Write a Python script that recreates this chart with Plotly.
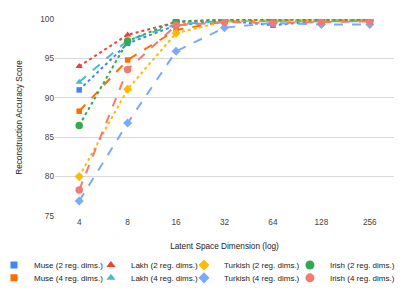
import plotly.graph_objects as go

dims = ["4", "8", "16", "32", "64", "128", "256"]
muse2 = [91.0, 96.9, 99.2, 99.8, 99.2, 99.8, 99.9]
muse4 = [88.3, 94.8, 98.6, 99.7, 99.8, 99.8, 99.9]
lakh2 = [94.0, 98.0, 99.6, 99.9, 99.9, 99.9, 99.9]
lakh4 = [92.0, 97.3, 99.3, 99.8, 99.7, 99.7, 99.7]
turk2 = [80.0, 91.1, 98.2, 99.7, 99.8, 99.9, 99.9]
turk4 = [76.9, 86.8, 95.9, 98.9, 99.5, 99.3, 99.3]
irish2 = [86.5, 97.2, 99.7, 99.9, 99.9, 99.9, 99.9]
irish4 = [78.3, 93.6, 99.2, 99.6, 99.5, 99.6, 99.7]

series = [
    ("Muse (2 reg. dims.)", muse2, "#4285F4", "square", "dot"),
    ("Muse (4 reg. dims.)", muse4, "#FF6D01", "square", "dash"),
    ("Lakh (2 reg. dims.)", lakh2, "#EA4335", "triangle-up", "dot"),
    ("Lakh (4 reg. dims.)", lakh4, "#46BDC6", "triangle-up", "dash"),
    ("Turkish (2 reg. dims.)", turk2, "#FBBC04", "diamond", "dot"),
    ("Turkish (4 reg. dims.)", turk4, "#7BAAF7", "diamond", "dash"),
    ("Irish (2 reg. dims.)", irish2, "#34A853", "circle", "dot"),
    ("Irish (4 reg. dims.)", irish4, "#F07B72", "circle", "dash"),
]
plot_size = {"square": 5.5, "triangle-up": 6.5, "diamond": 7, "circle": 7.5}
legend_size = {"square": 7, "triangle-up": 8, "diamond": 8.5, "circle": 9}

# legend grid: columns (left edge of each legend box in paper x), rows (paper y)
col_x = [-0.180, 0.106, 0.3805, 0.693]
row_y = [-0.249, -0.314]

FS = 8.25
LFS = 8

fig = go.Figure()
for name, vals, color, sym, dash in series:
    fig.add_trace(go.Scatter(
        x=dims, y=vals, mode="lines+markers", name=name, showlegend=False,
        line=dict(color=color, width=2, dash=dash),
        marker=dict(color=color, symbol=sym, size=plot_size[sym]),
    ))

legend_layouts = {}
for i, (name, vals, color, sym, dash) in enumerate(series):
    key = "legend" if i == 0 else f"legend{i + 1}"
    fig.add_trace(go.Scatter(
        x=[None], y=[None], mode="markers", name=name, showlegend=True,
        legend=key, marker=dict(color=color, symbol=sym, size=legend_size[sym]),
    ))
    legend_layouts[key] = dict(
        orientation="v", x=col_x[i // 2], xanchor="left",
        y=row_y[i % 2], yanchor="middle",
        font=dict(size=LFS, color="#222222"), itemwidth=30,
        bgcolor="rgba(0,0,0,0)", borderwidth=0,
    )

fig.update_layout(
    width=409, height=298,
    margin=dict(l=55, r=15, t=19, b=82, autoexpand=False),
    paper_bgcolor="white", plot_bgcolor="white",
    font=dict(family="Arial, Liberation Sans, sans-serif", size=FS, color="#222222"),
    xaxis=dict(
        type="category", range=[-0.5, 6.5], showgrid=False, zeroline=False,
        showline=False, ticks="", tickfont=dict(size=FS, color="#444444"),
        title=dict(text="Latent Space Dimension (log)", font=dict(size=FS, color="#222222"), standoff=16),
    ),
    yaxis=dict(
        range=[75, 100], tickvals=[75, 80, 85, 90, 95, 100], showgrid=True,
        gridcolor="#d9d9d9", gridwidth=1, zeroline=False, showline=False, ticks="",
        tickfont=dict(size=FS, color="#444444"),
        title=dict(text="Reconstruction Accuracy Score", font=dict(size=FS, color="#222222"), standoff=16),
    ),
    **legend_layouts,
)

fig.write_html("out.html", config={"displayModeBar": False},
               post_script="document.body.style.margin='0';")
